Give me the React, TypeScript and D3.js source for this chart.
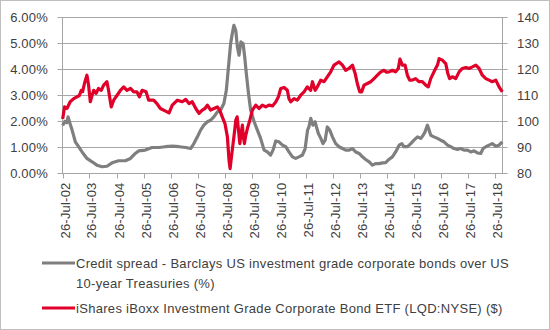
import React from 'react';
import * as d3 from 'd3';

// Credit spread (%), left axis — dates as decimal years
const spreadYears = [
  2002.57, 2002.65, 2002.72, 2002.77, 2002.85, 2002.92, 2003.04, 2003.16, 2003.29, 2003.47,
  2003.66, 2003.84, 2004.03, 2004.21, 2004.40, 2004.64, 2004.89, 2005.08, 2005.26, 2005.38,
  2005.63, 2005.88, 2006.13, 2006.37, 2006.63, 2006.88, 2007.13, 2007.31, 2007.43, 2007.56,
  2007.68, 2007.80, 2007.93, 2008.05, 2008.17, 2008.30, 2008.42, 2008.54, 2008.63, 2008.71,
  2008.79, 2008.85, 2008.91, 2008.98, 2009.04, 2009.10, 2009.17, 2009.25, 2009.31, 2009.37,
  2009.45, 2009.53, 2009.66, 2009.78, 2009.90, 2010.03, 2010.15, 2010.27, 2010.36, 2010.46,
  2010.58, 2010.71, 2010.83, 2010.95, 2011.08, 2011.20, 2011.32, 2011.45, 2011.55, 2011.59,
  2011.64, 2011.69, 2011.76, 2011.84, 2011.92, 2011.97, 2012.04, 2012.13, 2012.21, 2012.29,
  2012.37, 2012.46, 2012.56, 2012.68, 2012.80, 2012.93, 2013.05, 2013.18, 2013.30, 2013.42,
  2013.55, 2013.67, 2013.79, 2013.92, 2014.04, 2014.16, 2014.29, 2014.41, 2014.53, 2014.66,
  2014.78, 2014.90, 2015.03, 2015.13, 2015.21, 2015.34, 2015.46, 2015.58, 2015.71, 2015.83,
  2015.92, 2015.99, 2016.08, 2016.14, 2016.20, 2016.32, 2016.45, 2016.57, 2016.69, 2016.82,
  2016.94, 2017.06, 2017.19, 2017.31, 2017.43, 2017.56, 2017.68, 2017.80, 2017.93, 2018.05,
  2018.14, 2018.24, 2018.36, 2018.48, 2018.61, 2018.73, 2018.85,
];
const spreadValues = [
  1.85, 2.0, 1.95, 2.18, 1.9, 1.67, 1.22, 1.03, 0.83, 0.58,
  0.45, 0.32, 0.26, 0.28, 0.41, 0.49, 0.49, 0.58, 0.77, 0.87,
  0.9, 1.0, 1.0, 1.03, 1.05, 1.03, 1.0, 0.96, 1.15, 1.41,
  1.67, 1.86, 1.99, 2.05, 2.18, 2.37, 2.44, 2.69, 3.2, 4.1,
  5.0, 5.38, 5.7, 5.5, 4.87, 4.55, 5.06, 5.0, 4.49, 3.85,
  3.08, 2.44, 1.99, 1.67, 1.35, 0.9, 0.83, 0.71, 0.9, 1.25,
  1.22, 1.09, 1.03, 0.83, 0.64, 0.58, 0.64, 0.71, 0.96, 1.28,
  1.67, 1.79, 2.12, 1.86, 1.99, 1.79, 1.54, 1.35, 1.15, 1.28,
  1.79, 1.67, 1.41, 1.15, 1.03, 0.96, 0.9, 0.9, 0.96, 0.83,
  0.77, 0.64, 0.54, 0.45, 0.32, 0.38, 0.38, 0.41, 0.42, 0.55,
  0.64, 0.83, 1.09, 1.15, 1.03, 1.03, 1.15, 1.28, 1.41, 1.35,
  1.47, 1.6, 1.86, 1.67, 1.47, 1.41, 1.35, 1.28, 1.22, 1.09,
  1.03, 0.96, 0.92, 0.96, 0.9, 0.9, 0.83, 0.87, 0.79, 0.77,
  0.96, 1.03, 1.09, 1.15, 1.05, 1.09, 1.22,
];

// iShares iBoxx IG Corporate Bond ETF ($), right axis
const etfYears = [
  2002.57, 2002.64, 2002.73, 2002.85, 2002.98, 2003.10, 2003.19, 2003.26, 2003.31, 2003.385,
  2003.47, 2003.53, 2003.595, 2003.66, 2003.72, 2003.805, 2003.90, 2004.0, 2004.09, 2004.21,
  2004.27, 2004.37, 2004.46, 2004.58, 2004.71, 2004.83, 2004.95, 2005.08, 2005.20, 2005.32,
  2005.41, 2005.51, 2005.66, 2005.755, 2005.94, 2006.06, 2006.19, 2006.38, 2006.51, 2006.63,
  2006.82, 2007.0, 2007.13, 2007.25, 2007.37, 2007.50, 2007.62, 2007.74, 2007.84, 2007.93,
  2008.05, 2008.175, 2008.30, 2008.385, 2008.48, 2008.58, 2008.67, 2008.73, 2008.77, 2008.82,
  2008.88, 2008.94, 2008.98, 2009.03, 2009.08, 2009.13, 2009.175, 2009.225, 2009.26, 2009.30,
  2009.35, 2009.41, 2009.50, 2009.595, 2009.72, 2009.84, 2009.965, 2010.09, 2010.21, 2010.34,
  2010.46, 2010.56, 2010.645, 2010.77, 2010.89, 2010.95, 2011.015, 2011.14, 2011.26, 2011.385,
  2011.51, 2011.63, 2011.755, 2011.82, 2011.92, 2012.0, 2012.125, 2012.25, 2012.37, 2012.495,
  2012.62, 2012.805, 2012.93, 2013.05, 2013.175, 2013.30, 2013.40, 2013.48, 2013.57, 2013.64,
  2013.73, 2013.85, 2013.98, 2014.10, 2014.225, 2014.35, 2014.47, 2014.56, 2014.66, 2014.78,
  2014.90, 2015.0, 2015.06, 2015.15, 2015.25, 2015.335, 2015.42, 2015.52, 2015.64, 2015.77,
  2015.89, 2016.015, 2016.11, 2016.20, 2016.32, 2016.45, 2016.51, 2016.63, 2016.755, 2016.83,
  2016.90, 2017.0, 2017.125, 2017.25, 2017.37, 2017.50, 2017.62, 2017.74, 2017.87, 2017.99,
  2018.11, 2018.24, 2018.36, 2018.48, 2018.61, 2018.73, 2018.85,
];
const etfValues = [
  101, 105.6, 105, 107.6, 108.8, 109.5, 110, 112, 111.5, 114.9,
  117.8, 114, 107.6, 110, 112, 110.8, 112.7, 112, 114, 115.3,
  112, 105.6, 108.2, 110, 112, 113.3, 112, 112.7, 111.4, 111.4,
  109.5, 112, 111.4, 108.2, 108.2, 106.9, 105, 104, 103.3, 106.3,
  108.2, 107.6, 108.5, 106.9, 107.6, 105, 103.1, 104.4, 105, 106.3,
  104.4, 105, 105.6, 104.4, 101.8, 99.2, 94.1, 85.1, 81.9, 86.4,
  91.5, 96.7, 100.5, 101.8, 96.7, 91.5, 95.4, 98.6, 94.1, 91.5,
  94.7, 97.3, 100.5, 104.4, 106.3, 105, 106.3, 105.6, 106.3, 106,
  107.5, 109.5, 112.7, 113.1, 112, 108.8, 107.6, 108.8, 108.2, 110.1,
  111.4, 113.3, 112, 115.3, 112, 113.3, 115.9, 115.3, 117.2, 119.1,
  121.7, 122.9, 121.7, 119.7, 120.4, 121.7, 118.5, 114.6, 111.4, 111.4,
  114, 114.6, 115.3, 116.5, 117.8, 119.1, 119.7, 119, 119.1, 119.7,
  119.1, 120.4, 124, 121.7, 121.7, 117.8, 115.9, 115.9, 116.5, 115.3,
  115.3, 114, 113.3, 116.5, 119.1, 121.7, 124.2, 123.6, 122.3, 118.5,
  116.5, 117.2, 116.5, 119.1, 120.4, 120.8, 120.4, 121, 121.7, 120.4,
  117.8, 116.5, 115.9, 115.3, 115.9, 113.3, 111.4,
];

const leftTicks = [0, 1, 2, 3, 4, 5, 6];
const rightTicks = [80, 90, 100, 110, 120, 130, 140];
const xTickYears = [2002, 2003, 2004, 2005, 2006, 2007, 2008, 2009, 2010, 2011, 2012, 2013, 2014, 2015, 2016, 2017, 2018];
const legendLabels = [
  'Credit spread - Barclays US investment grade corporate bonds over US',
  '10-year Treasuries (%)',
  'iShares iBoxx Investment Grade Corporate Bond ETF (LQD:NYSE) ($)',
];

const W = 550;
const H = 330;
const GRAY = '#7f7f7f';
const RED = '#e0002a';
const TEXT = '#404040';
const GRID = '#a6a6a6';
const FONT = '"Liberation Sans", Arial, sans-serif';
const FS = 13;

function yearToDate(t: number): Date {
  const y = Math.floor(t);
  const s = new Date(y, 0, 1).getTime();
  const e = new Date(y + 1, 0, 1).getTime();
  return new Date(s + (t - y) * (e - s));
}

export default function App() {
  const x = d3.scaleTime().domain([new Date(2002, 6, 26), new Date(2018, 10, 10)]).range([62.5, 502.5]);
  const yL = d3.scaleLinear().domain([0, 6]).range([173.5, 17.5]);
  const yR = d3.scaleLinear().domain([80, 140]).range([173.5, 17.5]);
  const fmt = d3.timeFormat('%d-%b-%y');

  const spread: [Date, number][] = spreadYears.map((t, i) => [yearToDate(t), spreadValues[i]]);
  const etf: [Date, number][] = etfYears.map((t, i) => [yearToDate(t), etfValues[i]]);
  const lineL = d3.line<[Date, number]>().x(d => x(d[0])).y(d => yL(d[1]));
  const lineR = d3.line<[Date, number]>().x(d => x(d[0])).y(d => yR(d[1]));

  const x0 = x.range()[0];
  const x1 = x.range()[1];
  const yBase = yL(0);

  return (
    <svg width={W} height={H} style={{ position: 'absolute', left: 0, top: 0, display: 'block', background: '#fff' }} fontFamily={FONT}>
      <rect x={0.5} y={0.5} width={W - 1} height={H - 1} fill="#fff" stroke="#bfbfbf" />
      {leftTicks.map(v => (
        <line key={'g' + v} x1={x0 - 5} x2={x1 + 5} y1={yL(v)} y2={yL(v)} stroke={GRID} strokeWidth={1} />
      ))}
      <line x1={x0} x2={x0} y1={yL(6)} y2={yBase} stroke={GRID} />
      <line x1={x1} x2={x1} y1={yL(6)} y2={yBase} stroke={GRID} />
      {xTickYears.map(yr => {
        const d = new Date(yr, 6, 26);
        const px = Math.round(x(d)) + 0.5;
        return (
          <g key={yr}>
            <line x1={px} x2={px} y1={yBase} y2={yBase + 5} stroke={GRID} />
            <text
              transform={`translate(${px + 2},${yBase + 9}) rotate(-90)`}
              textAnchor="end"
              dy="0.35em"
              fontSize={FS}
              letterSpacing={0.2}
              fill={TEXT}
            >
              {fmt(d)}
            </text>
          </g>
        );
      })}
      {leftTicks.map(v => (
        <text key={'l' + v} x={48} y={yL(v)} dy="0.35em" textAnchor="end" fontSize={FS} letterSpacing={0.2} fill={TEXT}>
          {v.toFixed(2) + '%'}
        </text>
      ))}
      {rightTicks.map(v => (
        <text key={'r' + v} x={517} y={yR(v)} dy="0.35em" textAnchor="start" fontSize={FS} letterSpacing={0.2} fill={TEXT}>
          {v}
        </text>
      ))}
      <path d={lineL(spread) || ''} fill="none" stroke={GRAY} strokeWidth={3.2} strokeLinejoin="round" />
      <path d={lineR(etf) || ''} fill="none" stroke={RED} strokeWidth={3.2} strokeLinejoin="round" />

      <line x1={42} x2={75} y1={263} y2={263} stroke={GRAY} strokeWidth={3} />
      <text x={76} y={263} dy="0.35em" fontSize={FS} letterSpacing={0.3} fill={TEXT}>{legendLabels[0]}</text>
      <text x={76} y={283} dy="0.35em" fontSize={FS} letterSpacing={0.3} fill={TEXT}>{legendLabels[1]}</text>
      <line x1={42} x2={75} y1={308} y2={308} stroke={RED} strokeWidth={3} />
      <text x={76} y={308} dy="0.35em" fontSize={FS} letterSpacing={0.3} fill={TEXT}>{legendLabels[2]}</text>
    </svg>
  );
}
